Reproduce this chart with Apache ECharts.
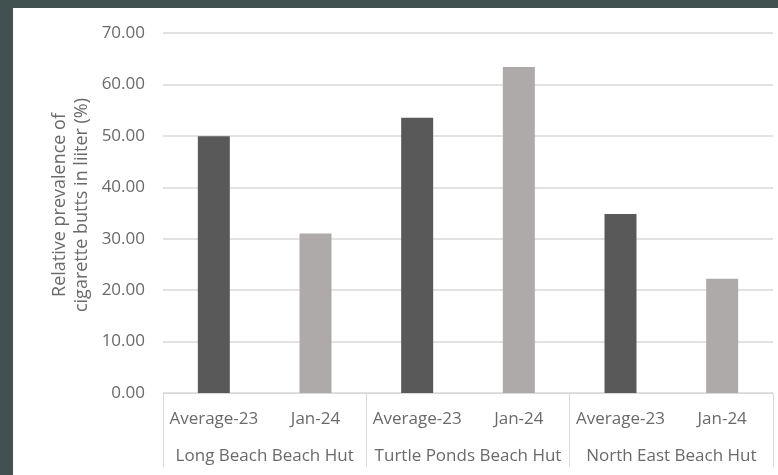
<!DOCTYPE html>
<html>
<head>
<meta charset="utf-8">
<script src="https://cdn.jsdelivr.net/npm/echarts@6/dist/echarts.min.js"></script>
<style>
  html, body { margin: 0; padding: 0; background: #415150; width: 778px; height: 475px; overflow: hidden; }
  #chart { position: absolute; left: 13px; top: 8px; width: 765px; height: 467px; background: #ffffff; }
</style>
</head>
<body>
<div id="chart"></div>
<script>
// Sites and sampling periods
const sites = ['Long Beach Beach Hut', 'Turtle Ponds Beach Hut', 'North East Beach Hut'];
const periods = ['Average-23', 'Jan-24'];

// Relative prevalence of cigarette butts (%) per site
const average23 = [49.9, 53.5, 34.8];
const jan24 = [31.0, 63.4, 22.2];

// Y-axis ticks
const yMin = 0, yMax = 70, yStep = 10;

const periodColors = ['#595959', '#aeaaaa'];
const textColor = '#6a6a6a';
const lineColor = '#d9d9d9';
const font = 'Open Sans';

// Flatten into one category per (site, period)
const categories = [];
const values = [];
const periodIndex = [];
sites.forEach((s, i) => {
  [average23[i], jan24[i]].forEach((v, p) => {
    categories.push(periods[p]);
    values.push(v);
    periodIndex.push(p);
  });
});

const chart = echarts.init(document.getElementById('chart'), null, { renderer: 'canvas' });
chart.setOption({
  animation: false,
  grid: { left: 150, right: 5, top: 25, bottom: 82 },
  xAxis: [
    {
      type: 'category',
      data: categories,
      position: 'bottom',
      axisLine: { show: true, lineStyle: { color: lineColor, width: 1 } },
      axisTick: { show: false },
      axisLabel: { color: textColor, fontFamily: font, fontSize: 17, margin: 18, interval: 0 }
    },
    {
      type: 'category',
      data: sites,
      position: 'bottom',
      axisLine: { show: false },
      axisTick: { show: true, length: 74, lineStyle: { color: lineColor, width: 1 } },
      axisLabel: { color: textColor, fontFamily: font, fontSize: 17, margin: 55, interval: 0 }
    }
  ],
  yAxis: {
    type: 'value',
    min: yMin, max: yMax, interval: yStep,
    axisLine: { show: false },
    axisTick: { show: false },
    splitLine: { lineStyle: { color: lineColor, width: 1.5 } },
    axisLabel: {
      color: textColor, fontFamily: font, fontSize: 17, margin: 18,
      formatter: v => v.toFixed(2)
    }
  },
  graphic: [{
    type: 'text',
    x: 58, y: 197,
    rotation: Math.PI / 2,
    style: {
      text: 'Relative prevalence of\ncigarette butts in liiter (%)',
      fill: textColor,
      font: '18px "Open Sans"',
      textAlign: 'center',
      textVerticalAlign: 'middle',
      lineHeight: 22
    }
  }],
  series: [{
    type: 'bar',
    xAxisIndex: 0,
    data: values.map((v, i) => ({ value: v, itemStyle: { color: periodColors[periodIndex[i]] } })),
    barWidth: 32
  }]
});
</script>
</body>
</html>
